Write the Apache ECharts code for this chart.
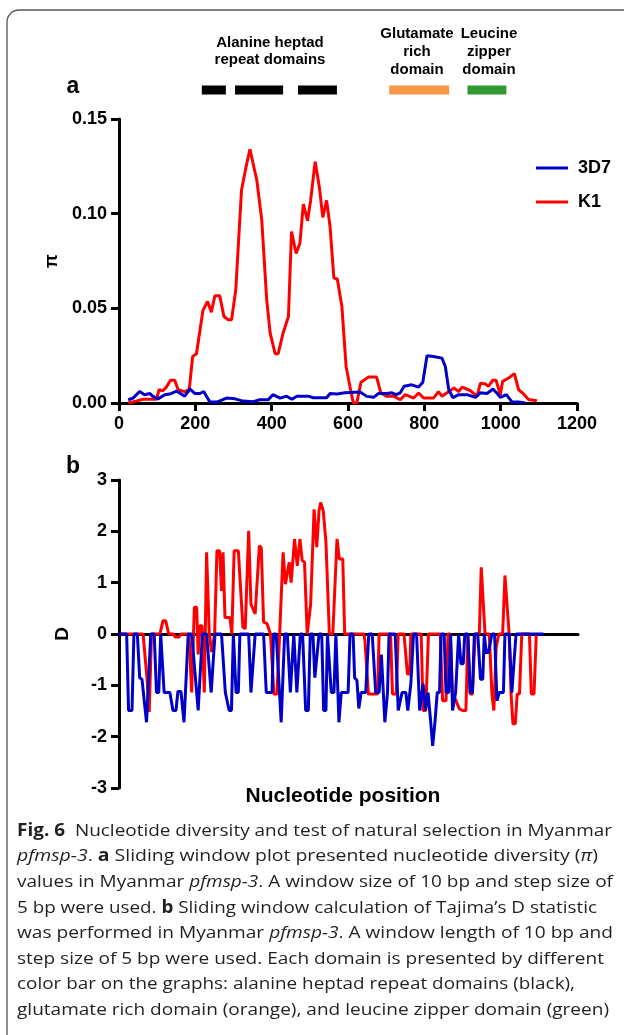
<!DOCTYPE html>
<html>
<head>
<meta charset="utf-8">
<script src="https://cdn.jsdelivr.net/npm/echarts@6/dist/echarts.min.js"></script>
<style>
html,body{margin:0;padding:0;background:#fff;}
#c{width:624px;height:1035px;}
</style>
</head>
<body>
<div id="c"></div>
<script>
// ---------- DATA ----------
const xTicks = [0, 200, 400, 600, 800, 1000, 1200];
const seriesNames = ['3D7', 'K1'];

// Panel a: nucleotide diversity (pi)
const k1Pi = [[24,0],[45,0.001],[63,0.002],[98,0.002],[105,0.007],[115,0.0065],[124,0.0084],[135,0.012],[146,0.012],[155,0.007],[172,0.006],[184,0.007],[193,0.0246],[203,0.026],[220,0.049],[232,0.0536],[242,0.048],[251,0.0566],[264,0.0566],[275,0.0457],[286,0.044],[295,0.044],[306,0.0598],[321,0.1125],[333,0.1248],[343,0.134],[361,0.1178],[374,0.0967],[387,0.0545],[396,0.037],[409,0.026],[417,0.026],[430,0.037],[444,0.0457],[452,0.0905],[464,0.079],[474,0.0844],[483,0.105],[494,0.0963],[502,0.107],[514,0.1274],[525,0.114],[534,0.098],[544,0.107],[553,0.093],[563,0.066],[572,0.0655],[584,0.051],[595,0.0193],[605,0.0088],[614,0],[623,0],[634,0.011],[654,0.0137],[675,0.0137],[686,0.0053],[702,0.0035],[719,0.0036],[737,0.0017],[750,0.0044],[772,0.0026],[785,0.0053],[798,0.0026],[824,0.0026],[837,0.006],[846,0.0036],[868,0.0066],[878,0.0079],[890,0.006],[899,0.0084],[920,0.0066],[938,0.0035],[947,0.0105],[960,0.010],[968,0.0088],[979,0.012],[988,0.012],[999,0.0044],[1005,0.0114],[1021,0.0132],[1036,0.0155],[1047,0.007],[1060,0.0048],[1073,0.0018],[1095,0.0012]];
const d7Pi = [[24,0.0017],[37,0.0026],[54,0.0061],[67,0.0044],[81,0.005],[89,0.0035],[102,0.0021],[120,0.0044],[133,0.0047],[151,0.0063],[172,0.0036],[186,0.0074],[199,0.005],[212,0.005],[222,0.0061],[238,0.0005],[256,0.0005],[282,0.0026],[304,0.0022],[325,0.001],[352,0.0007],[369,0.0017],[391,0.0017],[403,0.0044],[422,0.0026],[439,0.0036],[453,0.002],[466,0.0036],[496,0.0036],[509,0.0028],[544,0.0028],[553,0.005],[571,0.0047],[579,0.005],[592,0.0054],[632,0.0058],[649,0.0035],[667,0.003],[680,0.005],[702,0.005],[715,0.0054],[726,0.0044],[737,0.0054],[747,0.0088],[767,0.0096],[785,0.0084],[796,0.011],[807,0.025],[824,0.0246],[846,0.0237],[855,0.0193],[864,0.007],[875,0.0028],[890,0.0044],[912,0.0044],[934,0.003],[947,0.0054],[964,0.005],[980,0.0074],[991,0.005],[999,0.003],[1015,0.0044],[1030,0.0005],[1047,0.0005],[1065,0]];

// Panel b: Tajima's D
const k1D = [[0,0],[63,0],[67,0],[73,-0.85],[79,-1.52],[85,0],[107,0],[115,0.26],[122,0.26],[130,0],[143,0],[147,-0.06],[157,-0.06],[162,0],[183,0],[190,-1.14],[194,-1.14],[197,0.52],[203,0.52],[207,-0.4],[211,0.16],[217,0.16],[223,-1.14],[229,1.59],[236,0],[242,-0.35],[250,0],[256,1.62],[263,1.62],[268,0.84],[272,1.59],[277,0.32],[290,0.32],[295,0],[301,1.62],[312,1.62],[324,0.13],[330,0.1],[339,2.01],[345,0.58],[350,0.61],[356,0.39],[361,0.39],[367,1.72],[372,1.68],[378,0.23],[387,0.2],[396,0],[400,0],[405,-1.17],[413,-1.17],[420,0],[429,1.59],[435,0.97],[440,0.94],[445,1.4],[450,1.0],[459,1.85],[466,1.33],[473,1.85],[479,1.43],[485,1.4],[492,0],[501,0.58],[510,2.43],[517,1.69],[523,2.4],[527,2.56],[534,2.4],[541,1.8],[550,0],[559,0],[570,1.85],[576,1.46],[585,1.46],[590,0],[640,0],[643,-0.13],[652,-1.17],[676,-1.17],[680,0],[710,0],[715,-1.17],[725,-1.17],[730,0],[745,0],[750,-0.42],[754,-0.78],[760,-0.78],[763,0],[790,0],[795,-1.49],[802,-1.49],[809,0],[840,0],[846,-1.3],[855,-1.3],[860,0],[866,0],[872,-1.15],[881,-1.3],[890,-1.46],[898,-1.49],[907,-1.49],[912,0],[918,-1.17],[924,-1.17],[931,0],[942,0],[947,1.3],[951,1.3],[957,0],[968,0],[975,-1.17],[980,-1.49],[986,-0.26],[993,0],[1003,0],[1009,1.14],[1014,1.14],[1020,0],[1025,-1.17],[1030,-1.75],[1036,-1.75],[1041,-1.17],[1047,-1.17],[1053,0],[1073,0],[1078,-1.17],[1085,-1.17],[1091,0]];
const d7D = [[0,0],[20,0],[25,-1.49],[34,-1.49],[39,0],[48,0],[54,-0.85],[60,-0.88],[72,-1.72],[83,0],[92,0],[98,-1.14],[104,-1.14],[109,0],[114,0],[118,-1.14],[133,-1.14],[141,-1.49],[149,-1.49],[154,-1.12],[162,-1.12],[170,-1.72],[181,0],[190,0],[207,-1.49],[218,0],[229,0],[241,-1.14],[245,-1.14],[251,0],[268,0],[278,-1.14],[283,-1.14],[288,-1.49],[294,-1.49],[299,0],[303,0],[306,-1.14],[312,-1.14],[316,0],[339,0],[345,-1.14],[350,-1.14],[356,0],[378,0],[385,-1.14],[400,-1.14],[404,0],[411,0],[424,-1.72],[433,0],[440,0],[448,-1.14],[453,-1.14],[457,0],[461,0],[465,-1.14],[470,-1.14],[474,0],[480,0],[488,-1.49],[495,-1.49],[500,0],[507,0],[512,-0.85],[516,-0.85],[523,0],[530,0],[535,-1.49],[541,-1.49],[545,0],[550,0],[555,-1.14],[562,-1.14],[567,0],[571,0],[575,-1.72],[581,-1.14],[599,-1.14],[604,0],[612,0],[616,-0.85],[622,-0.9],[627,-1.45],[633,-1.14],[645,-1.14],[653,0],[662,0],[671,-1.14],[680,-1.14],[686,-0.4],[695,-1.72],[702,-1.14],[706,0],[715,0],[722,0],[730,-1.49],[740,-1.14],[750,-1.14],[755,-1.49],[763,-0.97],[770,0],[778,0],[786,-1.49],[795,-0.97],[801,-1.49],[808,-1.14],[815,-1.72],[820,-2.18],[826,-1.72],[832,-1.14],[838,-1.14],[842,0],[850,0],[855,-1.14],[862,-1.14],[867,0],[872,-1.49],[880,-1.14],[888,0],[894,-0.58],[900,-0.58],[904,0],[912,0],[918,-1.14],[924,-1.14],[929,0],[938,0],[945,-0.88],[951,-0.88],[955,0],[960,-0.36],[966,-0.36],[975,0],[982,0],[988,-1.3],[994,-1.14],[1005,-1.14],[1009,0],[1020,0],[1027,-1.14],[1032,-1.14],[1038,0],[1110,0]];

// Domain bars (nucleotide start, end)
const alanineDomains = [[217,280],[304,430],[469,571]];
const glutamateDomain = [[708,865]];
const leucineDomain = [[913,1015]];

// ---------- STYLE ----------
const RED = '#ff0000', BLUE = '#0000c8';
const AX = "'Liberation Sans', Arial, sans-serif";
const CAP = "'Open Sans', 'Noto Sans', sans-serif";
const LW = 3;

const chart = echarts.init(document.getElementById('c'), null, {renderer: 'canvas'});

const axisLine = {show: true, lineStyle: {color: '#000', width: 3}};
const axisTick = {show: true, inside: false, length: 8, lineStyle: {color: '#000', width: 3}};
const tickLabel = {color: '#000', fontFamily: AX, fontWeight: 'bold', fontSize: 18};

function domainRender(color) {
  return function (params, api) {
    const s = api.coord([api.value(0), 0]);
    const e = api.coord([api.value(1), 0]);
    return {type: 'rect', shape: {x: s[0], y: s[1] - 4.5, width: e[0] - s[0], height: 9}, style: {fill: color}};
  };
}

// Caption with per-line horizontal fitting
const mctx = document.createElement('canvas').getContext('2d');
const CAPSIZE = 17;
function fontFor(st) {
  if (st === 'b') return 'bold ' + CAPSIZE + 'px ' + CAP;
  if (st === 'i') return 'italic ' + CAPSIZE + 'px ' + CAP;
  return CAPSIZE + 'px ' + CAP;
}
const captionLines = [
  [[['b','Fig. 6'],['n','  Nucleotide diversity and test of natural selection in Myanmar']], 595],
  [[['i','pfmsp-3'],['n','. '],['b','a'],['n',' Sliding window plot presented nucleotide diversity ('],['i','π'],['n',')']], 581],
  [[['n','values in Myanmar '],['i','pfmsp-3'],['n','. A window size of 10 bp and step size of']], 596],
  [[['n','5 bp were used. '],['b','b'],['n',' Sliding window calculation of Tajima’s D statistic']], 580],
  [[['n','was performed in Myanmar '],['i','pfmsp-3'],['n','. A window length of 10 bp and']], 596],
  [[['n','step size of 5 bp were used. Each domain is presented by different']], 587],
  [[['n','color bar on the graphs: alanine heptad repeat domains (black),']], 558],
  [[['n','glutamate rich domain (orange), and leucine zipper domain (green)']], 592]
];
const graphics = [];
graphics.push({type: 'rect', shape: {x: 7, y: 10, width: 700, height: 1100, r: 12}, style: {fill: 'none', stroke: '#555', lineWidth: 1.3}, z: 0});
captionLines.forEach((ln, i) => {
  const segs = ln[0];
  let w = 0;
  segs.forEach(s => { mctx.font = fontFor(s[0]); w += mctx.measureText(s[1]).width; });
  const sx = ln[1] / w;
  const txt = segs.map(s => '{' + s[0] + '|' + s[1] + '}').join('');
  graphics.push({
    type: 'text', x: 17, y: 831 + 25.6 * i, scaleX: sx, scaleY: 1,
    style: {
      text: txt, verticalAlign: 'middle', align: 'left', fill: '#231f20',
      font: CAPSIZE + 'px ' + CAP,
      rich: {
        n: {fontFamily: CAP, fontSize: CAPSIZE, fill: '#231f20'},
        b: {fontFamily: CAP, fontSize: CAPSIZE, fontWeight: 'bold', fill: '#231f20'},
        i: {fontFamily: CAP, fontSize: CAPSIZE, fontStyle: 'italic', fill: '#231f20'}
      }
    }
  });
});
function label(text, x, y, size, extra) {
  return Object.assign({type: 'text', x: x, y: y, style: {text: text, fill: '#000', font: 'bold ' + size + 'px ' + AX, align: 'center', verticalAlign: 'middle'}}, extra || {});
}
graphics.push(label('Alanine heptad', 270, 43, 15));
graphics.push(label('repeat domains', 270, 60, 15));
graphics.push(label('Glutamate', 417, 34, 15));
graphics.push(label('rich', 417, 52, 15));
graphics.push(label('domain', 417, 70, 15));
graphics.push(label('Leucine', 489, 34, 15));
graphics.push(label('zipper', 489, 52, 15));
graphics.push(label('domain', 489, 70, 15));
graphics.push(label('a', 73, 87, 23));
graphics.push(label('b', 73, 467, 23));
graphics.push(label('Nucleotide position', 343, 796, 21));

const option = {
  animation: false,
  backgroundColor: '#fff',
  grid: [
    {left: 119, top: 119, width: 458, height: 284},
    {left: 119, top: 480, width: 459, height: 308},
    {left: 119, top: 81, width: 458, height: 18}
  ],
  xAxis: [
    {gridIndex: 0, type: 'value', min: 0, max: 1200, interval: 200, axisLine: axisLine, axisTick: axisTick,
     axisLabel: Object.assign({margin: 12, formatter: v => xTicks.includes(v) ? String(v) : ''}, tickLabel), splitLine: {show: false}},
    {gridIndex: 1, type: 'value', min: 0, max: 1200, interval: 200, axisLine: {show: true, onZero: true, lineStyle: {color: '#000', width: 3}},
     axisTick: {show: false}, axisLabel: {show: false}, splitLine: {show: false}},
    {gridIndex: 2, type: 'value', min: 0, max: 1200, show: false}
  ],
  yAxis: [
    {gridIndex: 0, type: 'value', min: 0, max: 0.15, interval: 0.05, axisLine: axisLine, axisTick: axisTick,
     axisLabel: Object.assign({margin: 12, formatter: v => v.toFixed(2)}, tickLabel), splitLine: {show: false},
     name: 'π', nameLocation: 'middle', nameGap: 49, nameRotate: 90,
     nameTextStyle: {fontFamily: AX, fontWeight: 'bold', fontSize: 18, color: '#000'}},
    {gridIndex: 1, type: 'value', min: -3, max: 3, interval: 1, axisLine: axisLine, axisTick: axisTick,
     axisLabel: Object.assign({margin: 12}, tickLabel), splitLine: {show: false},
     name: 'D', nameLocation: 'middle', nameGap: 47, nameRotate: 90,
     nameTextStyle: {fontFamily: AX, fontWeight: 'bold', fontSize: 19, color: '#000'}},
    {gridIndex: 2, type: 'value', min: -1, max: 1, show: false}
  ],
  legend: {
    data: seriesNames, orient: 'vertical', left: 531, top: 153, itemGap: 14,
    icon: 'rect', itemWidth: 32, itemHeight: 3,
    textStyle: {fontFamily: AX, fontWeight: 'bold', fontSize: 18, color: '#000', lineHeight: 20, padding: [0, 0, 0, 5]}
  },
  series: [
    {name: 'K1', type: 'line', xAxisIndex: 0, yAxisIndex: 0, data: k1Pi, showSymbol: false, symbol: 'none',
     lineStyle: {color: RED, width: LW}, itemStyle: {color: RED}, z: 2},
    {name: '3D7', type: 'line', xAxisIndex: 0, yAxisIndex: 0, data: d7Pi, showSymbol: false, symbol: 'none',
     lineStyle: {color: BLUE, width: LW}, itemStyle: {color: BLUE}, z: 3},
    {name: 'K1', type: 'line', xAxisIndex: 1, yAxisIndex: 1, data: k1D, showSymbol: false, symbol: 'none',
     lineStyle: {color: RED, width: LW}, itemStyle: {color: RED}, z: 2},
    {name: '3D7', type: 'line', xAxisIndex: 1, yAxisIndex: 1, data: d7D, showSymbol: false, symbol: 'none',
     lineStyle: {color: BLUE, width: LW}, itemStyle: {color: BLUE}, z: 3},
    {type: 'custom', xAxisIndex: 2, yAxisIndex: 2, data: alanineDomains, encode: {x: [0, 1]}, renderItem: domainRender('#000000')},
    {type: 'custom', xAxisIndex: 2, yAxisIndex: 2, data: glutamateDomain, encode: {x: [0, 1]}, renderItem: domainRender('#f79646')},
    {type: 'custom', xAxisIndex: 2, yAxisIndex: 2, data: leucineDomain, encode: {x: [0, 1]}, renderItem: domainRender('#339933')}
  ],
  graphic: graphics
};
chart.setOption(option);
</script>
</body>
</html>
